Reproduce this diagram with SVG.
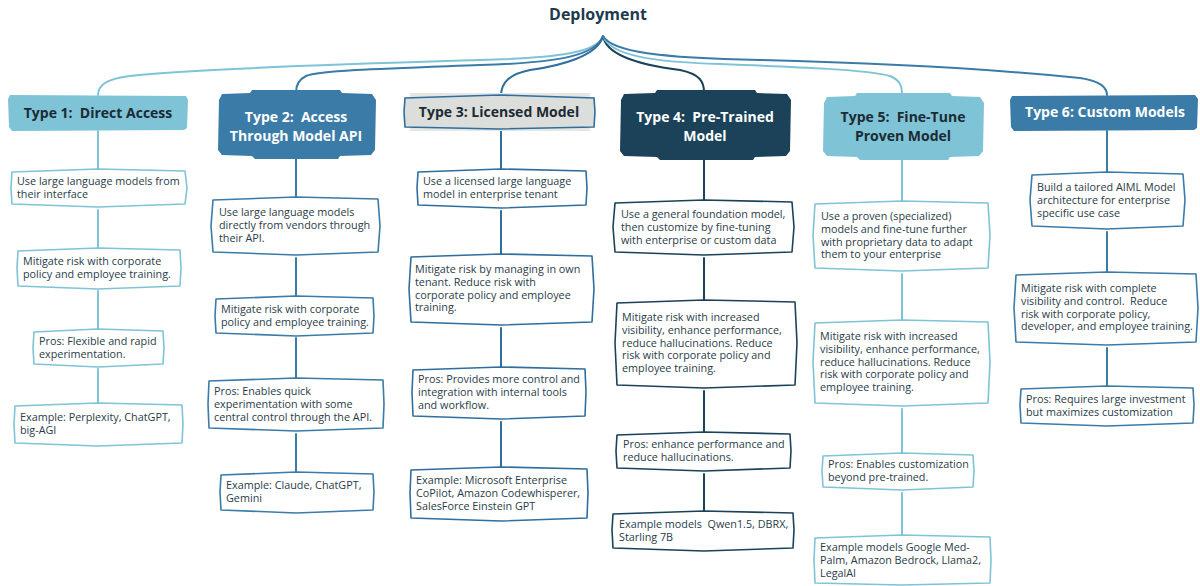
<svg xmlns="http://www.w3.org/2000/svg" width="1200" height="586" viewBox="0 0 1200 586">
<style>
.bg{fill:#ffffff}
.title{font-family:"Open Sans","Liberation Sans",sans-serif;font-size:16px;font-weight:700;fill:#1e3a4f;text-anchor:middle}
.ht{font-family:"Open Sans","Liberation Sans",sans-serif;font-size:14px;font-weight:700;text-anchor:middle;white-space:pre}
.dark{fill:#1c2a33}
.light{fill:#ffffff}
.bt{font-family:"Open Sans","Liberation Sans",sans-serif;font-size:10.8px;fill:#2a3c48;white-space:pre}
.box{fill:#ffffff;stroke-width:1.6;stroke-linejoin:round}
.c1{stroke:#7fc3d7}
.c2{stroke:#3b7ba8}
.c3{stroke:#2f6e9e}
.c4{stroke:#1b4259}
.c5{stroke:#7fc3d7}
.c6{stroke:#3b7ba8}
.ln{fill:none;stroke-width:2;stroke-linecap:round}
</style>
<rect class="bg" x="0" y="0" width="1200" height="586"/>
<text class="title" x="598" y="20">Deployment</text>

<g id="connectors">
<path class="ln c1" d="M603,36 C598,52 560,58 480,60 C380,63 200,68 130,76 C105,79 98,86 98,95"/>
<path class="ln c2" d="M603,36 C596,55 560,63 480,65 C400,68 320,70 306,76 C298,80 296,86 296,92"/>
<path class="ln c3" d="M603,36 C598,56 560,66 530,70 C510,74 501,82 501,96"/>
<path class="ln c4" d="M603,36 C606,55 640,65 680,70 C700,74 704,82 704,92"/>
<path class="ln c5" d="M603,36 C610,55 650,62 720,64 C800,67 870,70 890,76 C900,80 902,86 902,95"/>
<path class="ln c6" d="M603,36 C612,52 660,58 760,60 C880,63 1000,70 1080,78 C1100,81 1107,87 1107,95"/>
<path class="ln c1" d="M98,131 L98,169 M98,210 L98,248 M98,291 L98,329 M98,369 L98,403"/>
<path class="ln c2" d="M296,158 L296,197 M296,258 L296,296 M296,338 L296,378 M296,434 L296,472"/>
<path class="ln c3" d="M501,129 L501,169 M501,211 L501,254 M501,328 L501,367 M501,422 L501,467"/>
<path class="ln c4" d="M704,159 L704,200 M704,258 L704,300 M704,391 L704,432 M704,474 L704,511"/>
<path class="ln c5" d="M902,159 L902,201 M902,274 L902,320 M902,409 L902,453 M902,493 L902,535"/>
<path class="ln c6" d="M1107,131 L1107,172 M1107,232 L1107,272 M1107,348 L1107,386"/>
</g>

<g id="type1">
<path fill="#7fc3d7" d="M10,95 L186,96 L188,100 L187,128 L184,130 L12,131 L9,127 L8,99 Z"/>
<text class="ht dark" x="98" y="118">Type 1:  Direct Access</text>
</g>
<g id="type2">
<path fill="#3b7ba8" d="M222,94 L250,93 L252,90 L340,90 L342,93 L372,94 L376,100 L375,150 L371,155 L340,156 L338,159 L255,159 L252,156 L222,155 L218,150 L219,100 Z"/>
<text class="ht light" x="296" y="122">Type 2:  Access</text>
<text class="ht light" x="296" y="141">Through Model API</text>
</g>
<g id="type3">
<rect x="410" y="93" width="180" height="38" fill="#e6e7e4"/>
<path fill="#dcdedb" stroke="#2f6e9e" stroke-width="1.6" d="M405,98 L499,95 L594,98 L595,112 L594,127 L499,129 L405,127 L404,112 Z"/>
<text class="ht dark" x="499" y="117">Type 3: Licensed Model</text>
</g>
<g id="type4">
<path fill="#1b4259" d="M624,94 L655,93 L657,90 L755,90 L757,93 L787,94 L791,100 L790,151 L786,156 L755,157 L753,160 L660,160 L657,157 L624,156 L620,151 L621,100 Z"/>
<text class="ht light" x="705" y="122">Type 4:  Pre-Trained</text>
<text class="ht light" x="705" y="141">Model</text>
</g>
<g id="type5">
<path fill="#7fc3d7" d="M827,97 L855,96 L857,93 L950,93 L952,96 L980,97 L984,103 L983,151 L979,156 L950,157 L948,160 L860,160 L857,157 L827,156 L823,151 L824,103 Z"/>
<text class="ht dark" x="903" y="122">Type 5:  Fine-Tune</text>
<text class="ht dark" x="903" y="141">Proven Model</text>
</g>
<g id="type6">
<path fill="#3b7ba8" d="M1012,96 L1195,95 L1198,99 L1197,128 L1194,130 L1014,131 L1011,127 L1010,100 Z"/>
<text class="ht light" x="1105" y="117">Type 6: Custom Models</text>
</g>

<g id="c1b1"><path class="box c1" d="M12,172 L98,169 L185,171 L187,188 L185,204 L98,207 L12,204 L11,188 Z"/>
<text class="bt" x="17" y="185">Use large language models from<tspan x="17" dy="12.8">their interface</tspan></text></g>
<g id="c1b2"><path class="box c1" d="M18,251 L98,248 L180,250 L181,268 L180,286 L98,289 L18,286 L17,268 Z"/>
<text class="bt" x="23" y="265">Mitigate risk with corporate<tspan x="23" dy="12.8">policy and employee training.</tspan></text></g>
<g id="c1b3"><path class="box c1" d="M34,332 L98,329 L163,331 L164,348 L163,364 L98,367 L34,364 L33,348 Z"/>
<text class="bt" x="39" y="345">Pros: Flexible and rapid<tspan x="39" dy="12.8">experimentation.</tspan></text></g>
<g id="c1b4"><path class="box c1" d="M15,406 L98,403 L182,405 L183,424 L182,443 L98,446 L15,443 L14,424 Z"/>
<text class="bt" x="20" y="421">Example: Perplexity, ChatGPT,<tspan x="20" dy="12.8">big-AGI</tspan></text></g>

<g id="c2b1"><path class="box c2" d="M213,200 L296,197 L378,199 L380,226 L378,252 L296,255 L213,252 L211,226 Z"/>
<text class="bt" x="219" y="216">Use large language models<tspan x="219" dy="12.8">directly from vendors through</tspan><tspan x="219" dy="12.8">their API.</tspan></text></g>
<g id="c2b2"><path class="box c2" d="M216,299 L296,296 L373,298 L374,316 L373,333 L296,336 L216,333 L215,316 Z"/>
<text class="bt" x="221" y="313">Mitigate risk with corporate<tspan x="221" dy="12.8">policy and employee training.</tspan></text></g>
<g id="c2b3"><path class="box c2" d="M209,381 L296,378 L383,380 L384,404 L383,428 L296,431 L209,428 L208,404 Z"/>
<text class="bt" x="214" y="395">Pros: Enables quick<tspan x="214" dy="12.8">experimentation with some</tspan><tspan x="214" dy="12.8">central control through the API.</tspan></text></g>
<g id="c2b4"><path class="box c2" d="M221,475 L296,472 L373,474 L374,492 L373,510 L296,513 L221,510 L220,492 Z"/>
<text class="bt" x="226" y="489">Example: Claude, ChatGPT,<tspan x="226" dy="12.8">Gemini</tspan></text></g>

<g id="c3b1"><path class="box c3" d="M418,172 L501,169 L586,171 L587,188 L586,205 L501,208 L418,205 L417,188 Z"/>
<text class="bt" x="423" y="185">Use a licensed large language<tspan x="423" dy="12.8">model in enterprise tenant</tspan></text></g>
<g id="c3b2"><path class="box c3" d="M411,257 L501,254 L592,256 L594,289 L592,322 L501,325 L411,322 L409,289 Z"/>
<text class="bt" x="415" y="273">Mitigate risk by managing in own<tspan x="415" dy="12.8">tenant. Reduce risk with</tspan><tspan x="415" dy="12.8">corporate policy and employee</tspan><tspan x="415" dy="12.8">training.</tspan></text></g>
<g id="c3b3"><path class="box c3" d="M413,370 L501,367 L585,369 L586,392 L585,416 L501,419 L413,416 L412,392 Z"/>
<text class="bt" x="418" y="383">Pros: Provides more control and<tspan x="418" dy="12.8">integration with internal tools</tspan><tspan x="418" dy="12.8">and workflow.</tspan></text></g>
<g id="c3b4"><path class="box c3" d="M411,470 L501,467 L587,469 L588,493 L587,518 L501,521 L411,518 L410,493 Z"/>
<text class="bt" x="416" y="484">Example: Microsoft Enterprise<tspan x="416" dy="12.8">CoPilot, Amazon Codewhisperer,</tspan><tspan x="416" dy="12.8">SalesForce Einstein GPT</tspan></text></g>

<g id="c4b1"><path class="box c4" d="M615,203 L704,200 L792,202 L794,227 L792,252 L704,255 L615,252 L613,227 Z"/>
<text class="bt" x="621" y="218">Use a general foundation model,<tspan x="621" dy="12.8">then customize by fine-tuning</tspan><tspan x="621" dy="12.8">with enterprise or custom data</tspan></text></g>
<g id="c4b2"><path class="box c4" d="M617,303 L704,300 L795,302 L797,343 L795,385 L704,388 L617,385 L615,343 Z"/>
<text class="bt" x="622" y="321">Mitigate risk with increased<tspan x="622" dy="12.8">visibility, enhance performance,</tspan><tspan x="622" dy="12.8">reduce hallucinations. Reduce</tspan><tspan x="622" dy="12.8">risk with corporate policy and</tspan><tspan x="622" dy="12.8">employee training.</tspan></text></g>
<g id="c4b3"><path class="box c4" d="M617,435 L704,432 L790,434 L791,451 L790,468 L704,471 L617,468 L616,451 Z"/>
<text class="bt" x="623" y="448">Pros: enhance performance and<tspan x="623" dy="12.8">reduce hallucinations.</tspan></text></g>
<g id="c4b4"><path class="box c4" d="M613,514 L704,511 L793,513 L794,530 L793,548 L704,551 L613,548 L612,530 Z"/>
<text class="bt" x="619" y="528">Example models  Qwen1.5, DBRX,<tspan x="619" dy="12.8">Starling 7B</tspan></text></g>

<g id="c5b1"><path class="box c5" d="M815,204 L902,201 L988,203 L990,235 L988,268 L902,271 L815,268 L813,235 Z"/>
<text class="bt" x="821" y="220">Use a proven (specialized)<tspan x="821" dy="12.8">models and fine-tune further</tspan><tspan x="821" dy="12.8">with proprietary data to adapt</tspan><tspan x="821" dy="12.8">them to your enterprise</tspan></text></g>
<g id="c5b2"><path class="box c5" d="M815,323 L902,320 L988,322 L990,362 L988,403 L902,406 L815,403 L813,362 Z"/>
<text class="bt" x="820" y="340">Mitigate risk with increased<tspan x="820" dy="12.8">visibility, enhance performance,</tspan><tspan x="820" dy="12.8">reduce hallucinations. Reduce</tspan><tspan x="820" dy="12.8">risk with corporate policy and</tspan><tspan x="820" dy="12.8">employee training.</tspan></text></g>
<g id="c5b3"><path class="box c5" d="M823,456 L902,453 L973,455 L974,471 L973,487 L902,490 L823,487 L822,471 Z"/>
<text class="bt" x="828" y="468">Pros: Enables customization<tspan x="828" dy="12.8">beyond pre-trained.</tspan></text></g>
<g id="c5b4"><path class="box c5" d="M815,538 L902,535 L990,537 L991,560 L990,583 L902,585 L815,583 L814,560 Z"/>
<text class="bt" x="820" y="551">Example models Google Med-<tspan x="820" dy="12.8">Palm, Amazon Bedrock, Llama2,</tspan><tspan x="820" dy="12.8">LegalAI</tspan></text></g>

<g id="c6b1"><path class="box c6" d="M1032,175 L1107,172 L1183,174 L1185,200 L1183,226 L1107,229 L1032,226 L1030,200 Z"/>
<text class="bt" x="1037" y="191">Build a tailored AIML Model<tspan x="1037" dy="12.8">architecture for enterprise</tspan><tspan x="1037" dy="12.8">specific use case</tspan></text></g>
<g id="c6b2"><path class="box c6" d="M1016,275 L1107,272 L1196,274 L1198,308 L1196,342 L1107,345 L1016,342 L1014,308 Z"/>
<text class="bt" x="1021" y="292">Mitigate risk with complete<tspan x="1021" dy="12.8">visibility and control.  Reduce</tspan><tspan x="1021" dy="12.8">risk with corporate policy,</tspan><tspan x="1021" dy="12.8">developer, and employee training.</tspan></text></g>
<g id="c6b3"><path class="box c6" d="M1021,389 L1107,386 L1193,388 L1194,405 L1193,423 L1107,426 L1021,423 L1020,405 Z"/>
<text class="bt" x="1026" y="403">Pros: Requires large investment<tspan x="1026" dy="12.8">but maximizes customization</tspan></text></g>
</svg>
